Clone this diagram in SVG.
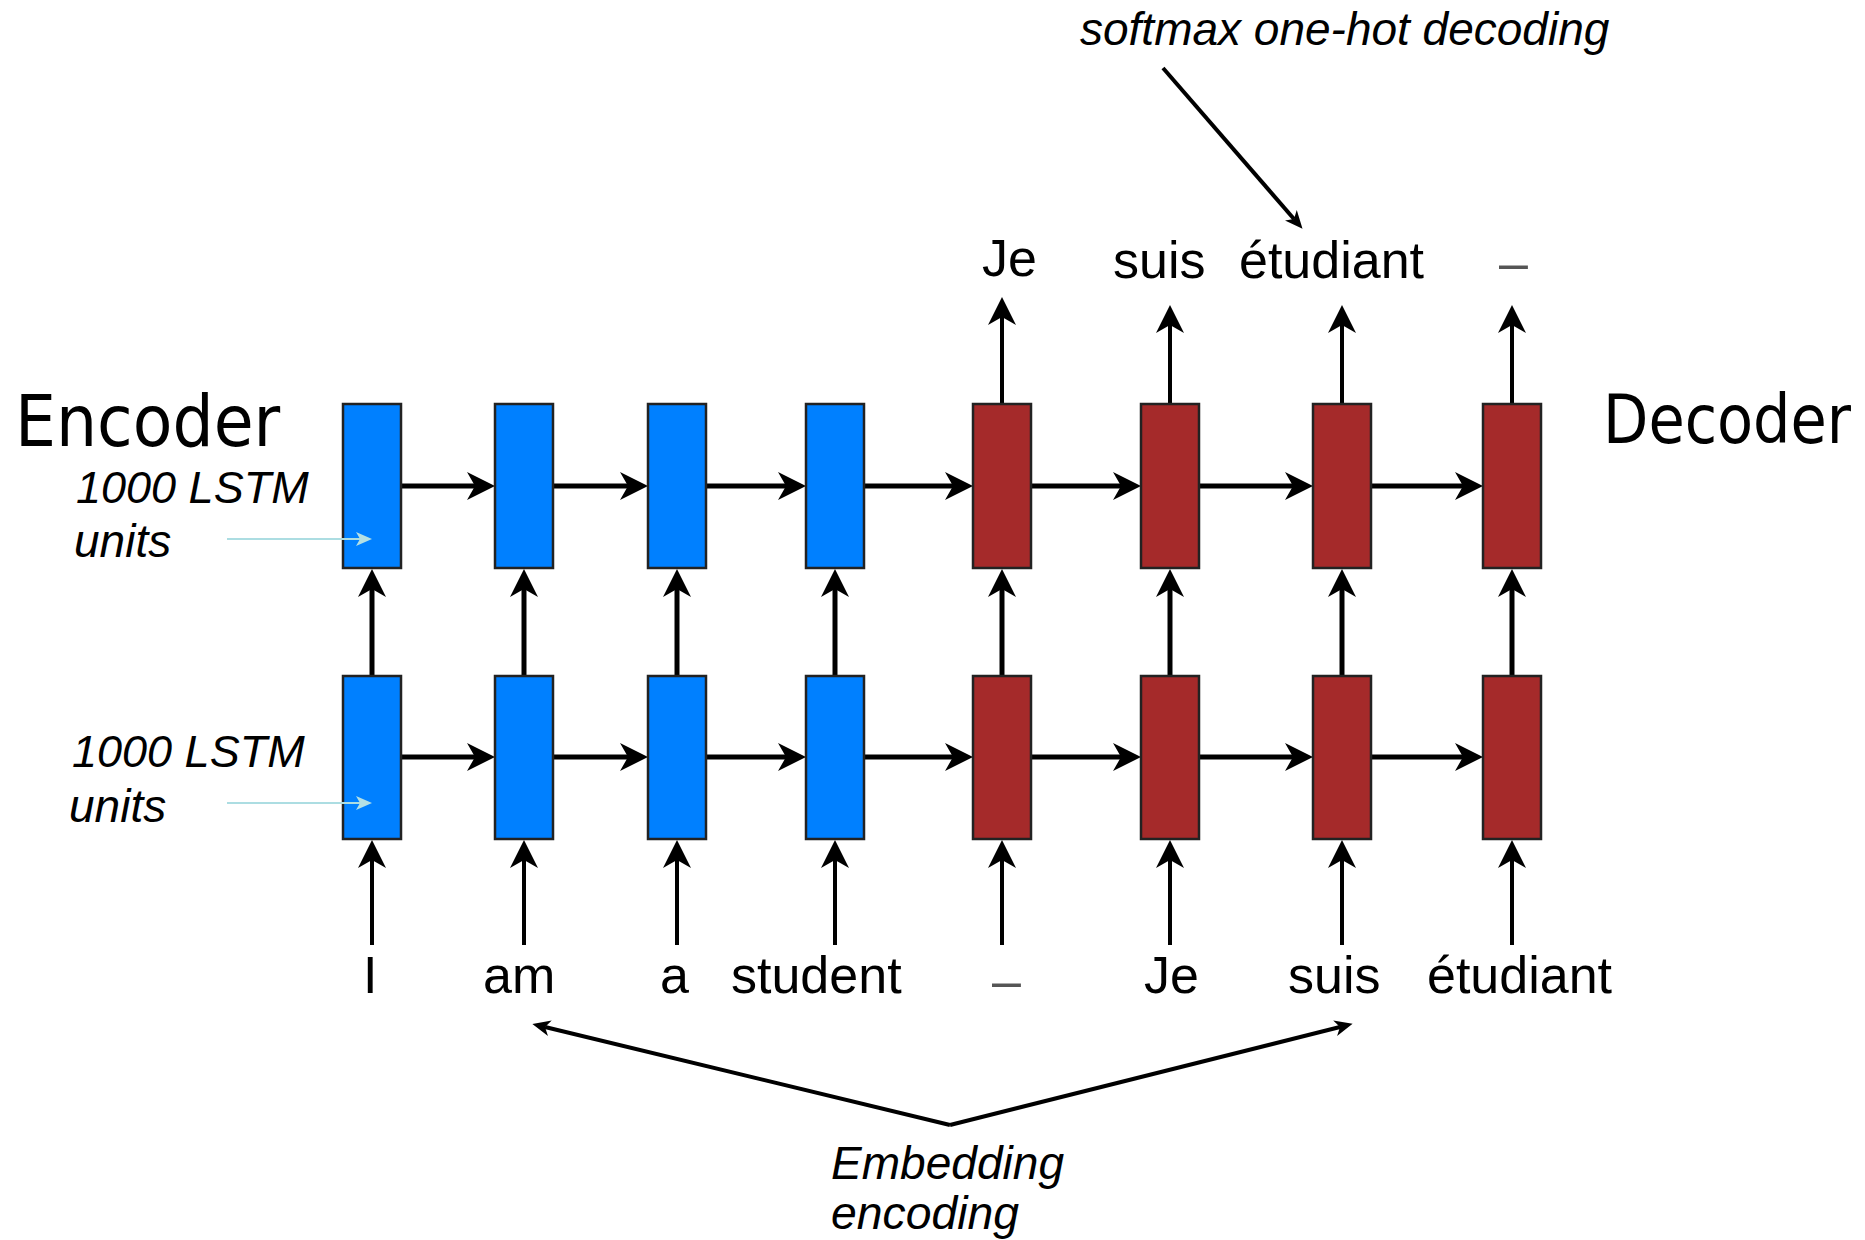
<svg xmlns="http://www.w3.org/2000/svg" width="1865" height="1240" viewBox="0 0 1865 1240">
  <defs>
    <style>
      .enc { fill: #0080ff; stroke: #222; stroke-width: 2.5; }
      .dec { fill: #a52a2a; stroke: #222; stroke-width: 2.5; }
      .link { stroke: #000; stroke-width: 5; fill: none; marker-end: url(#head); }
      .io { stroke: #000; stroke-width: 4; fill: none; marker-end: url(#head); }
      .note { stroke: #000; stroke-width: 4; fill: none; marker-end: url(#headSmall); }
      .hint { stroke: #acdde2; stroke-width: 2.2; fill: none; marker-end: url(#headLight); }
      .word { font-family: "Liberation Sans", Arial, sans-serif; font-size: 52px; fill: #000; }
      .dash { font-family: "Liberation Sans", Arial, sans-serif; font-size: 52px; fill: #555; }
      .lbl { font-family: "Liberation Sans", Arial, sans-serif; font-style: italic; fill: #000; }
      .hand { font-family: "DejaVu Sans", sans-serif; fill: #000; }
    </style>
    <!-- notched arrowheads; refX sits on the notch so the tip lands past the line end -->
    <marker id="head" markerUnits="userSpaceOnUse" viewBox="0 0 28 28" markerWidth="28" markerHeight="28" refX="8" refY="14" orient="auto">
      <path d="M0,0 L28,14 L0,28 L8,14 Z" fill="#000"/>
    </marker>
    <marker id="headSmall" markerUnits="userSpaceOnUse" viewBox="0 0 18 16" markerWidth="18" markerHeight="16" refX="5" refY="8" orient="auto">
      <path d="M0,0 L18,8 L0,16 L5,8 Z" fill="#000"/>
    </marker>
    <marker id="headLight" markerUnits="userSpaceOnUse" viewBox="0 0 16 14" markerWidth="16" markerHeight="14" refX="4" refY="7" orient="auto">
      <path d="M0,0 L16,7 L0,14 L4,7 Z" fill="#b4e0e4"/>
    </marker>
  </defs>

  <rect width="1865" height="1240" fill="#fff"/>

  <!-- connectors (line end + 20 = arrow tip) -->
  <g id="connectors">
    <!-- recurrent links, upper layer -->
    <line class="link" x1="401" y1="486" x2="475" y2="486"/>
    <line class="link" x1="553" y1="486" x2="628" y2="486"/>
    <line class="link" x1="706" y1="486" x2="786" y2="486"/>
    <line class="link" x1="864" y1="486" x2="953" y2="486"/>
    <line class="link" x1="1031" y1="486" x2="1121" y2="486"/>
    <line class="link" x1="1199" y1="486" x2="1293" y2="486"/>
    <line class="link" x1="1371" y1="486" x2="1463" y2="486"/>
    <!-- recurrent links, lower layer -->
    <line class="link" x1="401" y1="757" x2="475" y2="757"/>
    <line class="link" x1="553" y1="757" x2="628" y2="757"/>
    <line class="link" x1="706" y1="757" x2="786" y2="757"/>
    <line class="link" x1="864" y1="757" x2="953" y2="757"/>
    <line class="link" x1="1031" y1="757" x2="1121" y2="757"/>
    <line class="link" x1="1199" y1="757" x2="1293" y2="757"/>
    <line class="link" x1="1371" y1="757" x2="1463" y2="757"/>
    <!-- lower layer feeds upper layer -->
    <line class="link" x1="372" y1="676" x2="372" y2="589"/>
    <line class="link" x1="524" y1="676" x2="524" y2="589"/>
    <line class="link" x1="677" y1="676" x2="677" y2="589"/>
    <line class="link" x1="835" y1="676" x2="835" y2="589"/>
    <line class="link" x1="1002" y1="676" x2="1002" y2="589"/>
    <line class="link" x1="1170" y1="676" x2="1170" y2="589"/>
    <line class="link" x1="1342" y1="676" x2="1342" y2="589"/>
    <line class="link" x1="1512" y1="676" x2="1512" y2="589"/>
    <!-- token inputs -->
    <line class="io" x1="372" y1="945" x2="372" y2="860"/>
    <line class="io" x1="524" y1="945" x2="524" y2="860"/>
    <line class="io" x1="677" y1="945" x2="677" y2="860"/>
    <line class="io" x1="835" y1="945" x2="835" y2="860"/>
    <line class="io" x1="1002" y1="945" x2="1002" y2="860"/>
    <line class="io" x1="1170" y1="945" x2="1170" y2="860"/>
    <line class="io" x1="1342" y1="945" x2="1342" y2="860"/>
    <line class="io" x1="1512" y1="945" x2="1512" y2="860"/>
    <!-- decoder outputs -->
    <line class="io" x1="1002" y1="404" x2="1002" y2="317"/>
    <line class="io" x1="1170" y1="404" x2="1170" y2="325"/>
    <line class="io" x1="1342" y1="404" x2="1342" y2="325"/>
    <line class="io" x1="1512" y1="404" x2="1512" y2="325"/>
    <!-- annotation pointers (tip 13px past line end) -->
    <line class="note" x1="1163" y1="68" x2="1294" y2="219"/>
    <line class="note" x1="950" y1="1125" x2="545" y2="1027"/>
    <line class="note" x1="950" y1="1125" x2="1340" y2="1027"/>
  </g>

  <!-- encoder cells -->
  <g id="enc-top-1"><rect class="enc" x="343" y="404" width="58" height="164"/></g>
  <g id="enc-top-2"><rect class="enc" x="495" y="404" width="58" height="164"/></g>
  <g id="enc-top-3"><rect class="enc" x="648" y="404" width="58" height="164"/></g>
  <g id="enc-top-4"><rect class="enc" x="806" y="404" width="58" height="164"/></g>
  <g id="enc-bot-1"><rect class="enc" x="343" y="676" width="58" height="163"/></g>
  <g id="enc-bot-2"><rect class="enc" x="495" y="676" width="58" height="163"/></g>
  <g id="enc-bot-3"><rect class="enc" x="648" y="676" width="58" height="163"/></g>
  <g id="enc-bot-4"><rect class="enc" x="806" y="676" width="58" height="163"/></g>

  <!-- decoder cells -->
  <g id="dec-top-1"><rect class="dec" x="973" y="404" width="58" height="164"/></g>
  <g id="dec-top-2"><rect class="dec" x="1141" y="404" width="58" height="164"/></g>
  <g id="dec-top-3"><rect class="dec" x="1313" y="404" width="58" height="164"/></g>
  <g id="dec-top-4"><rect class="dec" x="1483" y="404" width="58" height="164"/></g>
  <g id="dec-bot-1"><rect class="dec" x="973" y="676" width="58" height="163"/></g>
  <g id="dec-bot-2"><rect class="dec" x="1141" y="676" width="58" height="163"/></g>
  <g id="dec-bot-3"><rect class="dec" x="1313" y="676" width="58" height="163"/></g>
  <g id="dec-bot-4"><rect class="dec" x="1483" y="676" width="58" height="163"/></g>

  <!-- pointers from the layer notes into the first encoder cells, drawn over the cells -->
  <g id="hint-pointers">
    <line class="hint" x1="227" y1="539" x2="360" y2="539"/>
    <line class="hint" x1="227" y1="803" x2="360" y2="803"/>
  </g>

  <!-- section titles, narrowed horizontally -->
  <g id="title-encoder"><text class="hand" font-size="71" transform="translate(15,446) scale(0.914,1)">Encoder</text></g>
  <g id="title-decoder"><text class="hand" font-size="68" transform="translate(1603,443) scale(0.867,1)">Decoder</text></g>

  <!-- layer size notes -->
  <g id="note-top-layer">
    <text class="lbl" x="76" y="503" font-size="45">1000 LSTM</text>
    <text class="lbl" x="74" y="557" font-size="46">units</text>
  </g>
  <g id="note-bottom-layer">
    <text class="lbl" x="72" y="767" font-size="45">1000 LSTM</text>
    <text class="lbl" x="69" y="822" font-size="46">units</text>
  </g>

  <!-- output tokens -->
  <g id="outputs">
    <text class="word" x="982" y="276">Je</text>
    <text class="word" x="1113" y="278">suis</text>
    <text class="word" x="1239" y="278">étudiant</text>
    <text class="dash" x="1499" y="280">–</text>
  </g>

  <!-- input tokens -->
  <g id="inputs">
    <text class="word" x="363" y="993">I</text>
    <text class="word" x="483" y="993">am</text>
    <text class="word" x="660" y="993">a</text>
    <text class="word" x="731" y="993">student</text>
    <text class="dash" x="992" y="998">–</text>
    <text class="word" x="1144" y="993">Je</text>
    <text class="word" x="1288" y="993">suis</text>
    <text class="word" x="1427" y="993">étudiant</text>
  </g>

  <!-- annotations -->
  <g id="note-softmax"><text class="lbl" x="1080" y="45" font-size="46">softmax one-hot decoding</text></g>
  <g id="note-embedding">
    <text class="lbl" x="831" y="1179" font-size="47" textLength="233" lengthAdjust="spacingAndGlyphs">Embedding</text>
    <text class="lbl" x="831" y="1229" font-size="47" textLength="188" lengthAdjust="spacingAndGlyphs">encoding</text>
  </g>
</svg>
